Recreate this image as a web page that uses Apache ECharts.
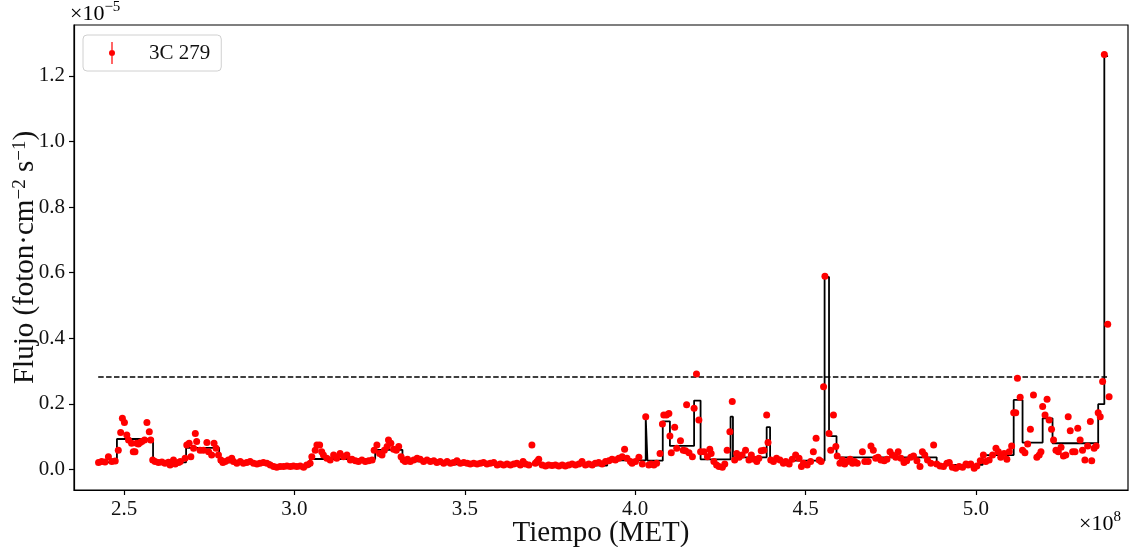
<!DOCTYPE html>
<html>
<head>
<meta charset="utf-8">
<title>Curva de luz 3C 279</title>
<script src="https://cdn.jsdelivr.net/npm/echarts@6/dist/echarts.min.js"></script>
<style>
    html, body { margin: 0; padding: 0; background: #fff; }
    #lightCurve { width: 1130px; height: 547px; }
</style>
</head>
<body>
<div id="lightCurve"></div>
<script>

// tiempos (MET, en unidades de 1e8 s)
const times = [
    2.425, 2.434, 2.444, 2.454, 2.464, 2.474, 2.483, 2.490, 2.495, 2.501,
    2.508, 2.513, 2.522, 2.527, 2.532, 2.537, 2.542, 2.547, 2.552, 2.560,
    2.567, 2.574, 2.578, 2.584, 2.591, 2.601, 2.611, 2.620, 2.630, 2.635,
    2.645, 2.650, 2.660, 2.665, 2.679, 2.684, 2.691, 2.696, 2.704, 2.709,
    2.713, 2.723, 2.733, 2.743, 2.748, 2.757, 2.764, 2.770, 2.777, 2.784,
    2.790, 2.797, 2.806, 2.816, 2.821, 2.831, 2.841, 2.850, 2.860, 2.870,
    2.880, 2.890, 2.899, 2.909, 2.919, 2.929, 2.939, 2.948, 2.958, 2.968,
    2.978, 2.988, 2.997, 3.007, 3.017, 3.027, 3.036, 3.046, 3.051, 3.061,
    3.066, 3.074, 3.080, 3.085, 3.095, 3.105, 3.115, 3.124, 3.134, 3.144,
    3.154, 3.164, 3.169, 3.179, 3.188, 3.198, 3.208, 3.218, 3.228, 3.234,
    3.242, 3.250, 3.257, 3.264, 3.272, 3.276, 3.283, 3.291, 3.299, 3.306,
    3.313, 3.319, 3.325, 3.332, 3.340, 3.350, 3.360, 3.369, 3.379, 3.389,
    3.399, 3.409, 3.418, 3.428, 3.438, 3.448, 3.458, 3.467, 3.477, 3.487,
    3.497, 3.507, 3.516, 3.526, 3.536, 3.546, 3.555, 3.565, 3.575, 3.585,
    3.595, 3.604, 3.614, 3.624, 3.634, 3.644, 3.653, 3.663, 3.671, 3.678,
    3.688, 3.697, 3.707, 3.712, 3.717, 3.727, 3.737, 3.746, 3.756, 3.766,
    3.776, 3.786, 3.795, 3.805, 3.815, 3.825, 3.835, 3.844, 3.854, 3.864,
    3.874, 3.883, 3.893, 3.903, 3.913, 3.923, 3.932, 3.942, 3.952, 3.962,
    3.969, 3.976, 3.986, 3.991, 4.001, 4.011, 4.021, 4.031, 4.040, 4.047,
    4.055, 4.063, 4.073, 4.080, 4.084, 4.092, 4.099, 4.102, 4.106, 4.116,
    4.122, 4.133, 4.141, 4.148, 4.151, 4.158, 4.168, 4.173, 4.180, 4.187,
    4.192, 4.202, 4.212, 4.219, 4.223, 4.231, 4.239, 4.246, 4.256, 4.263,
    4.270, 4.278, 4.285, 4.292, 4.298, 4.305, 4.314, 4.324, 4.334, 4.341,
    4.349, 4.357, 4.363, 4.370, 4.378, 4.386, 4.390, 4.398, 4.406, 4.415,
    4.425, 4.435, 4.442, 4.452, 4.461, 4.471, 4.481, 4.488, 4.494, 4.505,
    4.515, 4.523, 4.531, 4.540, 4.546, 4.553, 4.557, 4.569, 4.574, 4.582,
    4.589, 4.593, 4.601, 4.608, 4.615, 4.623, 4.631, 4.638, 4.644, 4.652,
    4.667, 4.674, 4.684, 4.692, 4.699, 4.706, 4.713, 4.721, 4.731, 4.739,
    4.748, 4.755, 4.765, 4.772, 4.780, 4.789, 4.797, 4.809, 4.817, 4.827,
    4.836, 4.843, 4.850, 4.858, 4.868, 4.876, 4.885, 4.895, 4.905, 4.915,
    4.922, 4.931, 4.941, 4.951, 4.961, 4.971, 4.977, 4.985, 4.995, 5.003,
    5.013, 5.022, 5.029, 5.039, 5.049, 5.059, 5.066, 5.073, 5.083, 5.091,
    5.098, 5.105, 5.111, 5.117, 5.122, 5.130, 5.137, 5.144, 5.152, 5.160,
    5.169, 5.179, 5.186, 5.191, 5.196, 5.203, 5.209, 5.215, 5.222, 5.228,
    5.235, 5.242, 5.250, 5.257, 5.264, 5.271, 5.277, 5.284, 5.291, 5.299,
    5.306, 5.313, 5.320, 5.328, 5.336, 5.340, 5.347, 5.353, 5.359, 5.365,
    5.372, 5.377, 5.387, 5.391
];

// flujo (en unidades de 1e-5 foton cm^-2 s^-1)
const flux = [
    0.021, 0.024, 0.023, 0.039, 0.024, 0.026, 0.059, 0.113, 0.156, 0.143,
    0.105, 0.090, 0.080, 0.054, 0.054, 0.080, 0.078, 0.082, 0.085, 0.090,
    0.143, 0.115, 0.090, 0.029, 0.024, 0.021, 0.023, 0.019, 0.022, 0.014,
    0.029, 0.017, 0.021, 0.024, 0.034, 0.075, 0.080, 0.039, 0.065, 0.110,
    0.085, 0.059, 0.059, 0.082, 0.054, 0.044, 0.080, 0.065, 0.044, 0.029,
    0.021, 0.024, 0.029, 0.034, 0.024, 0.019, 0.024, 0.019, 0.021, 0.024,
    0.019, 0.017, 0.019, 0.021, 0.019, 0.014, 0.009, 0.007, 0.009, 0.009,
    0.011, 0.009, 0.011, 0.009, 0.011, 0.007, 0.014, 0.019, 0.039, 0.059,
    0.075, 0.075, 0.054, 0.044, 0.034, 0.029, 0.044, 0.034, 0.049, 0.039,
    0.044, 0.029, 0.031, 0.027, 0.024, 0.029, 0.024, 0.027, 0.029, 0.059,
    0.075, 0.049, 0.044, 0.059, 0.070, 0.090, 0.080, 0.062, 0.059, 0.070,
    0.039, 0.029, 0.024, 0.031, 0.024, 0.029, 0.034, 0.031, 0.024, 0.029,
    0.024, 0.027, 0.021, 0.024, 0.019, 0.024, 0.019, 0.021, 0.027, 0.019,
    0.021, 0.019, 0.017, 0.019, 0.017, 0.019, 0.021, 0.017, 0.019, 0.021,
    0.014, 0.017, 0.014, 0.017, 0.014, 0.017, 0.019, 0.014, 0.024, 0.017,
    0.014, 0.075, 0.019, 0.024, 0.031, 0.014, 0.011, 0.014, 0.012, 0.014,
    0.011, 0.014, 0.011, 0.014, 0.017, 0.014, 0.017, 0.024, 0.014, 0.017,
    0.014, 0.019, 0.021, 0.017, 0.024, 0.027, 0.031, 0.029, 0.034, 0.039,
    0.062, 0.034, 0.024, 0.019, 0.024, 0.037, 0.017, 0.161, 0.014, 0.017,
    0.014, 0.019, 0.049, 0.139, 0.166, 0.166, 0.171, 0.102, 0.051, 0.129,
    0.065, 0.088, 0.059, 0.057, 0.197, 0.051, 0.039, 0.187, 0.291, 0.151,
    0.054, 0.054, 0.039, 0.062, 0.049, 0.024, 0.014, 0.009, 0.007, 0.017,
    0.059, 0.115, 0.207, 0.029, 0.049, 0.037, 0.044, 0.059, 0.029, 0.044,
    0.031, 0.024, 0.034, 0.057, 0.059, 0.166, 0.082, 0.029, 0.024, 0.034,
    0.029, 0.019, 0.024, 0.017, 0.031, 0.044, 0.034, 0.009, 0.019, 0.014,
    0.024, 0.054, 0.095, 0.029, 0.024, 0.252, 0.589, 0.110, 0.059, 0.166,
    0.070, 0.041, 0.019, 0.029, 0.017, 0.024, 0.031, 0.019, 0.024, 0.019,
    0.054, 0.024, 0.024, 0.072, 0.059, 0.034, 0.037, 0.029, 0.027, 0.031,
    0.054, 0.044, 0.037, 0.054, 0.034, 0.021, 0.027, 0.037, 0.041, 0.027,
    0.009, 0.054, 0.044, 0.029, 0.019, 0.075, 0.017, 0.011, 0.009, 0.019,
    0.021, 0.007, 0.004, 0.009, 0.007, 0.017, 0.014, 0.017, 0.004, 0.011,
    0.027, 0.044, 0.024, 0.029, 0.044, 0.065, 0.054, 0.037, 0.049, 0.031,
    0.054, 0.072, 0.173, 0.173, 0.278, 0.220, 0.059, 0.051, 0.078, 0.123,
    0.227, 0.037, 0.044, 0.054, 0.192, 0.166, 0.214, 0.151, 0.123, 0.090,
    0.059, 0.054, 0.068, 0.041, 0.044, 0.161, 0.118, 0.054, 0.054, 0.126,
    0.090, 0.059, 0.029, 0.072, 0.146, 0.027, 0.065, 0.072, 0.173, 0.161,
    0.268, 1.265, 0.443, 0.222
];

// bloques bayesianos: bordes y nivel de cada bloque
const blockEdges = [
    2.424, 2.479, 2.585, 2.682, 2.779, 2.930, 3.046, 3.237, 3.317, 3.440,
    3.705, 3.918, 4.031, 4.036, 4.081, 4.102, 4.173, 4.192, 4.280, 4.287,
    4.386, 4.396, 4.556, 4.569, 4.591, 4.885, 5.020, 5.111, 5.137, 5.196,
    5.225, 5.359, 5.377, 5.388
];
const blockFlux = [
    0.022, 0.093, 0.022, 0.066, 0.022, 0.009, 0.032, 0.060, 0.025, 0.016,
    0.012, 0.028, 0.160, 0.027, 0.147, 0.072, 0.210, 0.031, 0.161, 0.037,
    0.129, 0.027, 0.587, 0.102, 0.037, 0.014, 0.044, 0.212, 0.082, 0.156,
    0.080, 0.199, 1.260
];

// umbral (linea discontinua)
const thresholdSpan = [2.424, 5.388];
const thresholdFlux = 0.282;

// marcas de los ejes
const xTicks = [2.5, 3.0, 3.5, 4.0, 4.5, 5.0];
const yTicks = [0.0, 0.2, 0.4, 0.6, 0.8, 1.0, 1.2];

const FONT = '"Liberation Serif", "DejaVu Serif", serif';

const points = times.map((t, i) => [t, flux[i]]);
const steps = blockEdges.map((e, i) => [e, blockFlux[Math.min(i, blockFlux.length - 1)]]);
const threshold = thresholdSpan.map(t => [t, thresholdFlux]);

let charts = echarts.init(document.getElementById('lightCurve'));

// texto "x10^n" como en matplotlib
function offsetText(left, top, exp) {
    return {
        type: 'text',
        left: left,
        top: top,
        style: {
            text: '{a|×10}{b|' + exp + '}',
            rich: {
                a: { fontFamily: FONT, fontSize: 22, color: '#111', lineHeight: 28 },
                b: { fontFamily: FONT, fontSize: 15, color: '#111', verticalAlign: 'top' }
            }
        }
    };
}

let option = {
    animation: false,
    backgroundColor: '#fff',
    grid: {
        left: 74,
        right: 2,
        top: 25,
        bottom: 57,
        containLabel: false,
        outerBoundsMode: 'none',
        show: true,
        borderColor: '#000',
        borderWidth: 1.2,
        backgroundColor: 'transparent'
    },
    legend: {
        data: [{
            name: '3C 279',
            icon: 'path://M3.4,0H4.6V22H3.4Z M4,8A3,3,0,1,1,4,14A3,3,0,1,1,4,8Z'
        }],
        left: 83,
        top: 35,
        itemWidth: 8,
        itemHeight: 22,
        padding: [7, 11, 7, 26],
        borderColor: '#d0d0d0',
        borderWidth: 1,
        borderRadius: 4,
        backgroundColor: 'rgba(255,255,255,0.8)',
        selectedMode: false,
        textStyle: {
            fontFamily: FONT,
            fontSize: 21,
            color: '#111',
            padding: [0, 0, 0, 28]
        }
    },
    xAxis: {
        type: 'value',
        min: 2.353,
        max: 5.4465,
        name: 'Tiempo (MET)',
        nameLocation: 'middle',
        nameGap: 29,
        nameMoveOverlap: false,
        nameTextStyle: { fontFamily: FONT, fontSize: 29, color: '#111' },
        axisLine: { onZero: false, lineStyle: { color: '#000', width: 1.2 } },
        axisTick: { customValues: xTicks, length: 5, lineStyle: { color: '#000', width: 1.2 } },
        axisLabel: {
            customValues: xTicks,
            formatter: v => v.toFixed(1),
            margin: 9,
            fontFamily: FONT,
            fontSize: 21,
            color: '#111'
        },
        splitLine: { show: false }
    },
    yAxis: {
        type: 'value',
        min: -0.0625,
        max: 1.355,
        name: 'Flujo (foton·cm{sup|−2} s{sup|−1})',
        nameLocation: 'middle',
        nameRotate: 90,
        nameGap: 34,
        nameMoveOverlap: false,
        nameTextStyle: {
            fontFamily: FONT,
            fontSize: 29,
            color: '#111',
            rich: {
                sup: { fontFamily: FONT, fontSize: 19, color: '#111', verticalAlign: 'top' }
            }
        },
        axisLine: { onZero: false, lineStyle: { color: '#000', width: 1.2 } },
        axisTick: { customValues: yTicks, length: 5, lineStyle: { color: '#000', width: 1.2 } },
        axisLabel: {
            customValues: yTicks,
            formatter: v => v.toFixed(1),
            margin: 9,
            fontFamily: FONT,
            fontSize: 21,
            color: '#111'
        },
        splitLine: { show: false }
    },
    graphic: [
        offsetText(70, 0, '−5'),
        offsetText(1079, 510, '8')
    ],
    series: [
        {
            name: 'bloques',
            type: 'line',
            step: 'end',
            data: steps,
            showSymbol: false,
            silent: true,
            lineStyle: { color: '#000', width: 1.8 },
            z: 2
        },
        {
            name: 'umbral',
            type: 'line',
            data: threshold,
            showSymbol: false,
            silent: true,
            lineStyle: { color: '#000', width: 1.7, type: [5.5, 2.4] },
            z: 2
        },
        {
            name: '3C 279',
            type: 'scatter',
            data: points,
            symbolSize: 7,
            itemStyle: { color: '#ff0000', opacity: 1 },
            z: 3
        }
    ]
};

charts.setOption(option);
</script>
</body>
</html>
